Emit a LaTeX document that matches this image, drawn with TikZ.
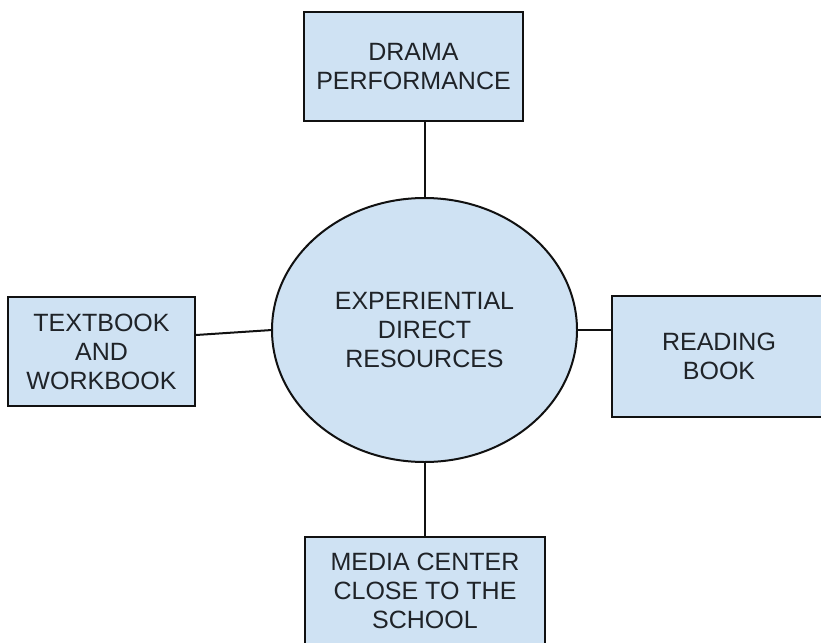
\documentclass[tikz,border=0pt]{standalone}
\usepackage{fontspec}
\setmainfont{Liberation Sans}
\usetikzlibrary{shapes.geometric}
\definecolor{boxfill}{HTML}{CFE2F3}
\definecolor{txt}{HTML}{1F2328}
\definecolor{edge}{HTML}{111111}
\begin{document}
\begin{tikzpicture}[x=1pt,y=-1pt,
  every node/.style={font=\fontsize{25}{29}\selectfont, text=txt, align=center, inner sep=0pt},
  boxnode/.style={rectangle, draw=edge, line width=2pt, fill=boxfill},
  ellnode/.style={ellipse, draw=edge, line width=2pt, fill=boxfill},
  link/.style={draw=edge, line width=2pt}]
\useasboundingbox (0,0) rectangle (821,642);
\clip (0,0) rectangle (821,642);
\fill[white] (0,0) rectangle (821,642);
\node[ellnode, minimum width=305pt, minimum height=264pt] (ell) at (424.5,330) {EXPERIENTIAL\\DIRECT\\RESOURCES};
\node[boxnode, minimum width=219pt, minimum height=109pt] (top) at (413.5,66.5) {DRAMA\\PERFORMANCE};
\node[boxnode, minimum width=187pt, minimum height=109pt] (left) at (101.5,351.5) {TEXTBOOK\\AND\\WORKBOOK};
\node[boxnode, minimum width=214pt, minimum height=121pt] (right) at (719,356.5) {READING\\BOOK};
\node[boxnode, minimum width=240pt, minimum height=108pt] (bot) at (425,591) {MEDIA CENTER\\CLOSE TO THE\\SCHOOL};
\draw[link] (ell.north) -- (ell.north |- top.south);
\draw[link] (ell.south) -- (ell.south |- bot.north);
\draw[link] ([yshift=16.5pt]left.east) -- ([xshift=1pt]ell.west);
\draw[link] ([xshift=-1pt]ell.east) -- ([yshift=26.5pt]right.west);
\end{tikzpicture}
\end{document}
